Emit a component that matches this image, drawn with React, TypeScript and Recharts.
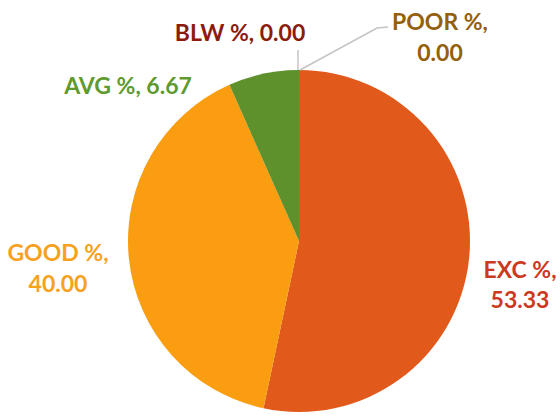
import React from "react";
import { PieChart, Pie, Cell } from "recharts";

const categories = ["EXC %", "GOOD %", "AVG %", "BLW %", "POOR %"];
const values = [53.33, 40.0, 6.67, 0.0, 0.0];
const sliceColors = ["#E2591C", "#FA9D10", "#5E902C", "#8E1E0C", "#9A6408"];
const labelColors = ["#CB3A1E", "#F7A11E", "#5E9A2E", "#8B1C0C", "#94600C"];

const data = categories.map((name, i) => ({ name, value: values[i] }));

// label layout: offsets from pie centre (lines of text), and leader line points
const labelLayout: Record<string, { dx: number; lines: number[]; split: boolean; leader?: number[][] }> = {
  "EXC %": { dx: 221, lines: [28, 58], split: true },
  "GOOD %": { dx: -241, lines: [11, 42], split: true },
  "AVG %": { dx: -171, lines: [-156], split: false },
  "BLW %": { dx: -59, lines: [-209], split: false, leader: [[-1, 0], [-1, -20]] },
  "POOR %": { dx: 141, lines: [-220, -189], split: true, leader: [[1, 0], [78, -42], [89, -43]] },
};

const FONT = "Lato, 'Open Sans', sans-serif";

const renderLabel = (props: any) => {
  const { cx, cy, outerRadius, index } = props;
  const name = categories[index];
  const val = values[index].toFixed(2);
  const lay = labelLayout[name];
  const color = labelColors[index];
  const texts = lay.split ? [`${name},`, val] : [`${name}, ${val}`];
  const top = cy - outerRadius;
  return (
    <g key={`lbl-${index}`}>
      {lay.leader && (
        <polyline
          points={lay.leader.map((p) => `${cx + p[0]},${top + p[1]}`).join(" ")}
          fill="none"
          stroke="#C4C4C4"
          strokeWidth={1.5}
        />
      )}
      {texts.map((t, j) => (
        <text
          key={j}
          x={cx + lay.dx}
          y={cy + lay.lines[j]}
          textAnchor="middle"
          dominantBaseline="central"
          fill={color}
          fontFamily={FONT}
          fontWeight={700}
          fontSize={23}
        >
          {t}
        </text>
      ))}
    </g>
  );
};

export default function App() {
  return (
    <div style={{ position: "absolute", left: 0, top: 0, width: 560, height: 416, background: "#fff" }}>
      <PieChart width={560} height={416} margin={{ top: 0, right: 0, bottom: 0, left: 0 }}>
        <Pie
          data={data}
          dataKey="value"
          nameKey="name"
          cx={299}
          cy={241}
          outerRadius={171}
          startAngle={90}
          endAngle={-270}
          stroke="none"
          label={renderLabel}
          labelLine={false}
          isAnimationActive={false}
        >
          {data.map((d, i) => (
            <Cell key={d.name} fill={sliceColors[i]} />
          ))}
        </Pie>
      </PieChart>
    </div>
  );
}
